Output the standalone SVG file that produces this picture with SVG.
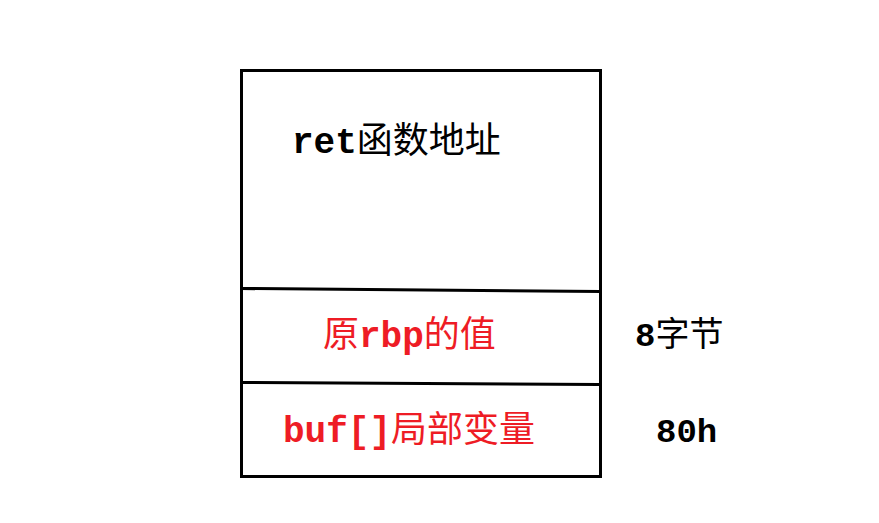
<svg xmlns="http://www.w3.org/2000/svg" width="879" height="523" viewBox="0 0 879 523">
<style>
.t{font-family:"Liberation Mono","Noto Sans CJK SC",monospace;font-size:36px}
.m{font-weight:bold}
.c{font-family:"Noto Sans CJK SC",sans-serif;font-weight:normal}
.red{fill:#ee1c25}
.blk{fill:#000}
.ln{stroke:#000;stroke-width:3;fill:none}
</style>
<rect width="879" height="523" fill="#fff"/>
<g id="stack">
<rect class="ln" x="241.5" y="70.5" width="359" height="406"/>
</g>
<g id="connectors">
<path class="ln" d="M241 288.5 L601 291.5"/>
<path class="ln" d="M241 382.5 L599 384.5"/>
</g>
<g id="ret">
<text class="t blk" x="292" y="153"><tspan class="m">ret</tspan><tspan class="c">函数地址</tspan></text>
</g>
<g id="rbp">
<text class="t red" x="323" y="347"><tspan class="c">原</tspan><tspan class="m">rbp</tspan><tspan class="c">的值</tspan></text>
</g>
<g id="buf">
<text class="t red" x="283" y="442"><tspan class="m">buf[]</tspan><tspan class="c">局部变量</tspan></text>
</g>
<g id="size8">
<text class="t blk" x="635" y="346" style="font-size:34px"><tspan class="m">8</tspan><tspan class="c">字节</tspan></text>
</g>
<g id="size80">
<text class="t blk m" x="656" y="442" style="font-size:34px">80h</text>
</g>
</svg>
